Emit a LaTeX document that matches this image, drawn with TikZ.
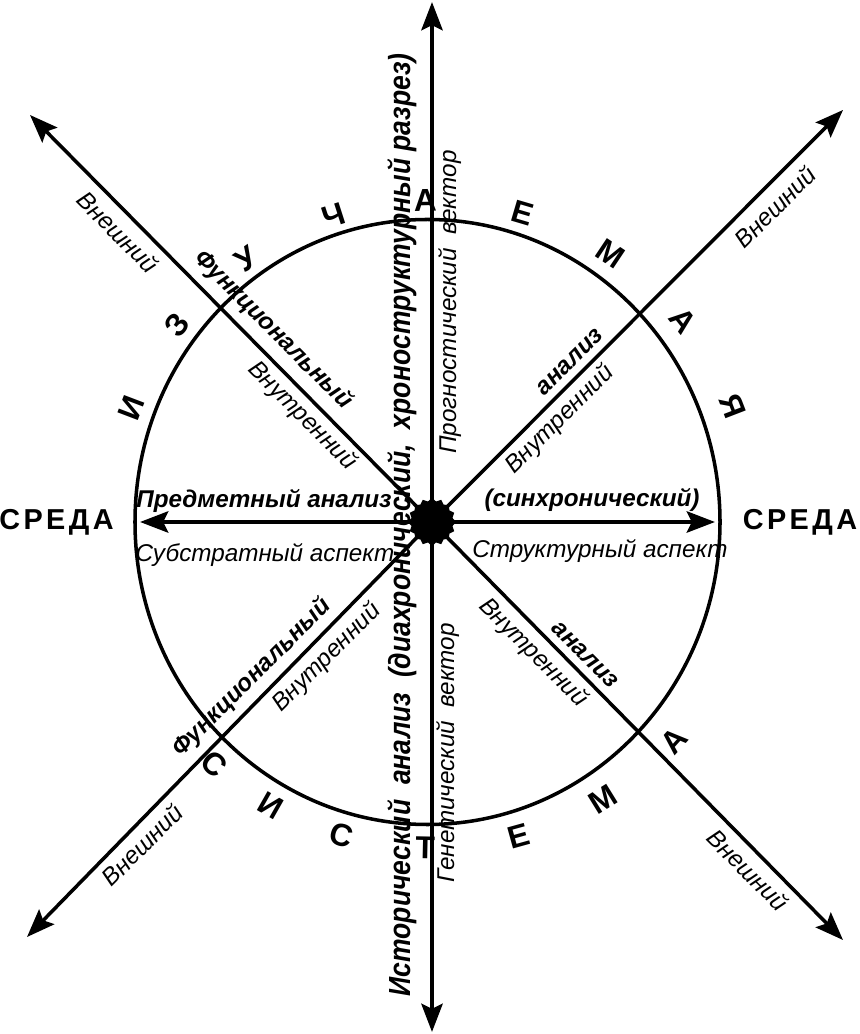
\documentclass[tikz,border=0pt]{standalone}
\usepackage{fontspec}
\setmainfont{Liberation Sans}
\newfontfamily\spacedfont[LetterSpace=12]{Liberation Sans}
\usetikzlibrary{arrows.meta,shapes.geometric}
\tikzset{
  >={Stealth[length=8pt,width=6pt,inset=1.4pt]},
}
\tikzstyle{axes}=[line width=1.3pt,->]
\tikzstyle{rays}=[line width=1pt,->]
\tikzstyle{rim}=[line width=1pt]
\tikzstyle{outer}=[font=\spacedfont\bfseries\fontsize{8.2}{9}\selectfont,inner sep=0pt]
\tikzstyle{letter}=[font=\bfseries\fontsize{9}{9}\selectfont,inner sep=0pt]
\tikzstyle{aspect}=[font=\itshape\fontsize{6.9}{9}\selectfont,inner sep=0pt]
\tikzstyle{analysis}=[font=\bfseries\itshape\fontsize{6.9}{9}\selectfont,inner sep=0pt]
\tikzstyle{history}=[font=\bfseries\itshape\fontsize{7.55}{9}\selectfont,inner sep=0pt]

\begin{document}
\begin{tikzpicture}
  \useasboundingbox (-4.32,-5.12) rectangle (4.27,5.22);
  \coordinate (O) at (0,0);
  \coordinate (N) at (0,5.2);
  \coordinate (S) at (0,-5.1);
  \coordinate (W) at (-2.92,0);
  \coordinate (E) at (2.83,0);
  \coordinate (NW) at (-4.02,4.07);
  \coordinate (NE) at (4.11,4.12);
  \coordinate (SW) at (-4.05,-4.15);
  \coordinate (SE) at (4.11,-4.18);
  % system boundary
  \draw[rim] (-0.045,0) ellipse [x radius=2.925, y radius=3.025];
  % axes
  \draw[axes] (O)--(N);
  \draw[axes] (O)--(S);
  \draw[axes] (O)--(W);
  \draw[axes] (O)--(E);
  \foreach \t in {NW,NE,SW,SE}
    \draw[rays] (O)--(\t);
  \node[star,star points=16,star point ratio=1.15,fill,minimum size=0.48cm,inner sep=0pt] (core) at (O) {};
  % environment
  \node[outer] (envW) at (-3.755,0) {СРЕДА};
  \node[outer] (envE) at (3.68,0) {СРЕДА};
  % horizontal labels
  \node[analysis,anchor=base] (subj) at (-1.68,0.14) {Предметный анализ};
  \node[aspect,anchor=base] (subst) at (-1.67,-0.40) {Субстратный аспект};
  \node[analysis,anchor=base] (sync) at (1.60,0.15) {(синхронический)};
  \node[aspect,anchor=base] (struct) at (1.68,-0.36) {Структурный аспект};
  % vertical labels
  \node[history,rotate=90] (hist) at (-0.30,-0.03)
    {\scalebox{1}[1.15]{Исторический\ \ анализ\ \ (диахронический,\ \ хроноструктурный разрез)}};
  \node[aspect,rotate=90] (prog) at (0.18,2.20) {Прогностический\ \ вектор};
  \node[aspect,rotate=90] (gen) at (0.16,-2.31) {Генетический\ \ вектор};
  % diagonal labels
  \node[aspect,rotate=-45] (extNW) at (-3.14,2.90) {Внешний};
  \node[analysis,rotate=-45] (funNW) at (-1.59,1.92) {Функциональный};
  \node[aspect,rotate=-45] (intNW) at (-1.30,1.06) {Внутренний};
  \node[aspect,rotate=45] (extNE) at (3.43,3.15) {Внешний};
  \node[analysis,rotate=45] (anNE) at (1.38,1.60) {анализ};
  \node[aspect,rotate=45] (intNE) at (1.28,1.02) {Внутренний};
  \node[analysis,rotate=45] (funSW) at (-1.80,-1.56) {Функциональный};
  \node[aspect,rotate=45] (intSW) at (-1.05,-1.36) {Внутренний};
  \node[aspect,rotate=45] (extSW) at (-2.90,-3.23) {Внешний};
  \node[analysis,rotate=-45] (anSE) at (1.53,-1.33) {анализ};
  \node[aspect,rotate=-45] (intSE) at (1.01,-1.31) {Внутренний};
  \node[aspect,rotate=-45] (extSE) at (3.16,-3.48) {Внешний};
  % letters round the circle
  \foreach \l/\a [count=\i] in {И/159.2,З/142.3,У/125.2,Ч/107.8,А/91.2,Е/73.6,М/56.3,А/38.7,Я/21.1}
    \node[letter,rotate=\a-90] (top\i) at (\a:3.22) {\l};
  \foreach \l/\a [count=\i] in {С/228,И/240.4,С/253.9,Т/268.8,Е/285.5,М/301.7,А/317.9}
    \node[letter,rotate=\a+90] (bot\i) at (\a:3.26) {\l};
\end{tikzpicture}
\end{document}
